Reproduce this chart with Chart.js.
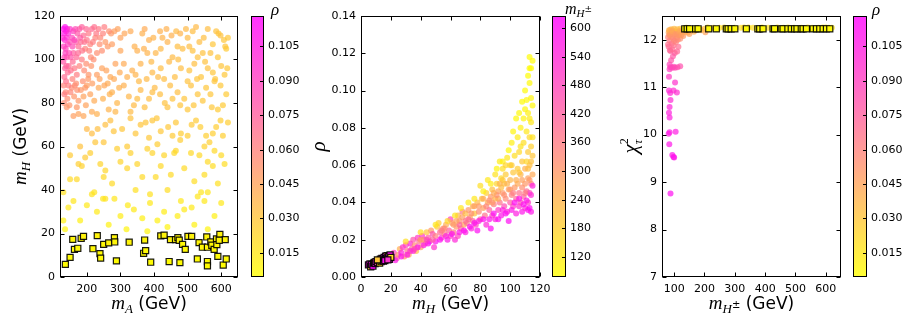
<!DOCTYPE html>
<html>
<head>
<meta charset="utf-8">
<script src="https://cdn.jsdelivr.net/npm/chart.js@4.4.1/dist/chart.umd.min.js"></script>
<style>
  body { margin: 0; background: #fff; }
  #wrap { position: relative; width: 915px; height: 327px; }
  canvas { position: absolute; top: 0; }
</style>
</head>
<body>
<div id="wrap">
  <canvas id="c1" width="305" height="327" style="left:0px"></canvas>
  <canvas id="c2" width="305" height="327" style="left:305px"></canvas>
  <canvas id="c3" width="305" height="327" style="left:610px"></canvas>
</div>
<script>
// ---- panel 1: m_A vs m_H, colour = rho ----
const p1Points = [
  [130,114,0.11],[132,112,0.108],[135,115,0.112],[138,113,0.105],[141,114,0.108],[128,110,0.1],[134,109,0.1],[140,110,0.098],
  [145,112,0.1],[150,114,0.095],[131,106,0.09],[137,105,0.088],[143,107,0.09],[150,108,0.085],[156,110,0.088],[160,113,0.09],
  [166,114,0.085],[172,112,0.08],[178,114,0.08],[185,115,0.075],[190,111,0.07],[198,114,0.072],[205,112,0.065],[215,114,0.07],
  [222,115,0.068],[228,112,0.065],[240,110,0.058],[248,112,0.06],[255,108,0.05],[272,112,0.05],[282,113,0.048],[292,114,0.046],
  [300,110,0.045],[312,112,0.044],[330,113,0.042],[365,112,0.04],[372,114,0.042],[385,109,0.04],[398,110,0.038],[418,113,0.04],
  [440,108,0.038],[452,111,0.04],[466,113,0.036],[478,112,0.038],[495,114,0.036],[500,110,0.035],[515,113,0.034],[525,115,0.036],
  [535,108,0.034],[548,110,0.033],[560,114,0.034],[592,112,0.03],[598,111,0.032],[608,109,0.03],[615,105,0.028],[167,108,0.08],
  [175,106,0.07],[182,108,0.07],[195,105,0.06],[210,107,0.06],[225,110,0.06],[238,107,0.055],[262,106,0.05],[275,107,0.048],
  [350,104,0.04],[370,105,0.04],[420,105,0.036],[470,106,0.034],[485,105,0.034],[515,104,0.032],[545,103,0.032],[575,107,0.03],
  [590,101,0.03],[612,106,0.03],
  [130,99,0.08],[135,96,0.075],[133,92,0.07],[140,101,0.08],[146,97,0.07],[152,95,0.068],[158,99,0.07],[163,96,0.065],
  [170,93,0.062],[178,97,0.06],[185,100,0.062],[192,95,0.056],[198,98,0.055],[205,93,0.052],[213,97,0.052],[220,100,0.055],
  [230,93,0.048],[245,96,0.046],[258,95,0.045],[270,92,0.043],[285,98,0.045],[298,94,0.042],[310,98,0.042],[320,92,0.04],
  [335,95,0.04],[345,93,0.038],[360,98,0.038],[378,91,0.036],[395,94,0.036],[412,92,0.035],[430,91,0.034],[445,99,0.036],
  [462,92,0.034],[480,96,0.034],[500,90,0.032],[520,98,0.033],[540,92,0.031],[560,96,0.032],[582,91,0.03],[600,97,0.031],
  [610,93,0.029],[380,103,0.038],[455,101,0.035],[230,103,0.055],[160,103,0.075],[300,104,0.044],
  [131,88,0.06],[137,85,0.058],[142,82,0.055],[148,79,0.052],[155,87,0.056],[162,83,0.052],[168,89,0.055],[175,81,0.05],
  [182,86,0.05],[190,83,0.046],[200,88,0.048],[210,84,0.045],[222,81,0.042],[235,87,0.043],[248,82,0.04],[262,89,0.042],
  [275,85,0.04],[290,80,0.037],[310,88,0.04],[325,83,0.037],[340,79,0.035],[360,86,0.036],[385,82,0.034],[402,87,0.035],
  [418,84,0.033],[432,80,0.032],[448,88,0.034],[470,85,0.033],[490,82,0.031],[510,88,0.032],[530,84,0.031],[555,87,0.03],
  [568,84,0.03],[580,90,0.031],[590,77,0.028],[605,79,0.028],[175,75,0.045],[190,74,0.044],[230,75,0.04],[265,77,0.038],
  [285,76,0.037],[330,76,0.035],[440,78,0.032],[160,74,0.048],
  [200,68,0.036],[215,66,0.034],[232,68,0.033],[255,70,0.033],[280,67,0.031],[305,68,0.03],[330,73,0.032],[360,70,0.031],
  [375,71,0.031],[395,72,0.03],[420,67,0.029],[442,69,0.029],[465,71,0.029],[478,63,0.027],[500,65,0.027],[525,72,0.028],
  [538,69,0.027],[555,65,0.026],[565,62,0.026],[585,69,0.027],[605,65,0.026],[620,71,0.027],[180,60,0.032],[320,60,0.028],
  [410,61,0.027],[480,66,0.027],[550,60,0.025],[250,62,0.03],
  [150,56,0.028],[175,52,0.026],[185,51,0.025],[210,57,0.026],[240,52,0.024],[255,49,0.023],[275,43,0.021],[290,59,0.026],
  [300,53,0.024],[330,57,0.025],[365,46,0.021],[380,59,0.025],[395,57,0.024],[420,51,0.022],[430,56,0.023],[450,47,0.021],
  [465,58,0.023],[490,50,0.021],[510,57,0.022],[550,47,0.02],[560,53,0.021],[575,51,0.02],[590,43,0.019],[600,56,0.021],
  [610,52,0.02],[255,36,0.018],[345,40,0.019],[388,38,0.018],[250,46,0.022],[460,57,0.022],
  [130,39,0.018],[130,26,0.012],[135,22,0.01],[150,45,0.021],[160,35,0.016],[180,26,0.012],[200,33,0.015],[215,38,0.017],
  [222,39,0.017],[248,36,0.016],[282,36,0.016],[300,28,0.013],[322,33,0.014],[340,31,0.014],[365,27,0.012],[380,21,0.01],
  [388,34,0.015],[430,30,0.013],[440,23,0.01],[480,35,0.015],[490,31,0.014],[512,32,0.014],[530,37,0.016],[540,39,0.016],
  [550,35,0.015],[560,39,0.016],[580,28,0.012],[560,22,0.01],[318,22,0.01],[190,18,0.008],
  [133,101,0.085],[136,103,0.09],[139,97,0.075],[143,94,0.07],[147,103,0.085],[152,101,0.08],[157,106,0.085],[163,109,0.088],
  [169,101,0.072],[174,103,0.072],[180,110,0.078],[186,104,0.066],[193,108,0.068],[200,109,0.066],[207,104,0.06],[212,101,0.056],
  [218,108,0.062],[235,114,0.065],[245,104,0.055],[252,115,0.062],[266,113,0.055],[133,84,0.062],[138,90,0.068],[145,88,0.062],
  [151,85,0.058],[157,91,0.06],[164,88,0.056],[171,86,0.054],[188,90,0.054],[195,87,0.05],[204,91,0.05],[216,89,0.048],
  [238,91,0.046],[252,88,0.044],[268,84,0.04],[281,91,0.043],[296,87,0.04],[132,80,0.056],[140,78,0.052],[170,78,0.05],
  [197,79,0.046],[215,76,0.042],
  [342,106,0.04],[405,103,0.037],[425,110,0.038],[437,114,0.04],[505,106,0.034],[530,101,0.032],[568,103,0.032],[585,113,0.032],
  [620,110,0.03],[355,90,0.036],[392,99,0.036],[420,96,0.034],[472,100,0.034],[505,95,0.032],[528,91,0.031],[552,99,0.032],
  [575,94,0.03],[598,88,0.029],[618,96,0.029],[350,82,0.034],[372,78,0.033],[395,85,0.034],[455,82,0.032],[478,79,0.031],
  [500,77,0.03],[518,79,0.03],[545,81,0.03],[572,78,0.029],[615,84,0.028],[345,66,0.03],[385,64,0.029],[408,73,0.03],
  [455,65,0.028],[512,70,0.028],[575,66,0.026],[598,72,0.027],[270,72,0.033],[225,62,0.03],[195,55,0.028],[320,50,0.024],
  [350,52,0.024],[405,46,0.021],[440,40,0.02],[520,44,0.02],[535,56,0.022],[580,58,0.022],[170,45,0.022],[230,30,0.014],
  [265,24,0.011],[410,26,0.012],[470,28,0.013],[520,24,0.011],[600,34,0.015],[145,32,0.015]
];
const p1Squares = [
  [136,5.8,0.006],[150,9,0.007],[158,17.3,0.009],[163,12.7,0.008],[173,13.2,0.008],[183,17.8,0.009],[190,18.7,0.01],
  [218,13,0.008],[231,19,0.01],[239,10.7,0.007],[241,8.7,0.007],[250,15,0.008],[265,15.7,0.009],[282,18.1,0.009],
  [283,16.1,0.009],[288,7.4,0.006],[326,16,0.009],[369,10.9,0.007],[372,17,0.009],[375,12.1,0.008],[390,6.8,0.006],
  [420,18.9,0.01],[430,19.2,0.01],[445,7.1,0.006],[449,17.2,0.009],[464,17.2,0.009],[471,18.1,0.009],[475,16.9,0.009],
  [477,6.6,0.006],[485,15,0.008],[493,12.7,0.008],[501,18.7,0.01],[512,18.7,0.01],[529,8.3,0.007],[534,15.8,0.009],
  [544,13.7,0.008],[557,18.4,0.009],[559,13.7,0.008],[559,7.1,0.006],[559,5.1,0.006],[569,16.1,0.009],[572,14.6,0.008],
  [579,12.7,0.008],[586,17.5,0.009],[587,14.9,0.008],[590,9.5,0.007],[596,19.6,0.01],[606,5.5,0.006],[612,17.2,0.009],
  [615,8.3,0.007],[594,16.9,0.009]
];
const p1XTicks = [200, 300, 400, 500, 600];
const p1YTicks = [0, 20, 40, 60, 80, 100, 120];

// ---- panel 2: m_H vs rho, colour = m_H± ----
const p2Points = [
  [21,0.011,560],[22,0.013,500],[24,0.010,420],[25,0.012,300],[26,0.015,250],[27,0.013,560],[28,0.016,520],[29,0.011,300],
  [30,0.017,480],[31,0.014,380],[32,0.012,260],[33,0.018,550],[34,0.015,400],[35,0.02,450],[36,0.017,320],[37,0.014,220],
  [38,0.021,500],[39,0.019,380],[40,0.016,280],[41,0.022,520],[42,0.02,360],[43,0.018,300],[44,0.024,200],[45,0.021,420],
  [46,0.019,560],[47,0.025,300],[48,0.023,460],[49,0.016,520],[50,0.022,350],
  [51,0.027,200],[52,0.029,180],[53,0.024,400],[54,0.021,520],[55,0.026,300],[56,0.023,360],[57,0.028,250],[58,0.02,580],
  [59,0.025,420],[60,0.022,500],[60,0.031,480],[61,0.029,280],[62,0.024,350],[63,0.02,540],[64,0.027,300],[65,0.033,240],
  [65,0.022,480],[66,0.03,320],[67,0.026,400],[68,0.035,360],[68,0.032,290],[69,0.028,260],[70,0.024,560],[70,0.034,220],
  [71,0.029,380],[72,0.036,300],[73,0.032,260],[74,0.026,560],[75,0.038,250],[75,0.03,420],[76,0.034,200],[77,0.028,480],
  [78,0.04,230],[78,0.025,600],[79,0.035,330],[80,0.031,400],[80,0.049,150],[81,0.042,200],[82,0.037,280],[83,0.033,380],
  [84,0.028,540],[84,0.045,180],[85,0.052,130],[85,0.04,250],[86,0.036,420],[87,0.026,600],[87,0.043,300],[88,0.047,220],
  [88,0.033,480],[89,0.039,360],[90,0.055,140],[90,0.042,240],[90,0.031,560],
  [91,0.05,170],[92,0.046,280],[92,0.036,500],[93,0.062,120],[93,0.04,380],[94,0.053,160],[94,0.033,580],[95,0.045,300],
  [95,0.058,150],[96,0.038,460],[96,0.05,220],[97,0.042,330],[97,0.055,190],[98,0.064,130],[98,0.035,540],[99,0.047,280],
  [99,0.03,600],[100,0.06,160],[100,0.04,420],[100,0.052,230],[101,0.072,110],[101,0.044,350],[102,0.038,500],[102,0.056,200],
  [103,0.065,150],[103,0.048,300],[104,0.034,560],[104,0.042,400],[105,0.075,120],[105,0.058,190],
  [105,0.05,260],[106,0.045,380],[106,0.038,520],[106,0.067,160],[107,0.08,110],[107,0.055,240],[107,0.04,460],[108,0.062,200],
  [108,0.048,320],[108,0.035,580],[109,0.085,105],[109,0.072,150],[109,0.043,420],[110,0.09,100],[110,0.058,250],[110,0.05,300],
  [110,0.037,540],[111,0.095,95],[111,0.078,130],[111,0.046,400],[112,0.067,190],[112,0.053,280],[112,0.036,600],[112,0.088,110],
  [113,0.118,85],[113,0.104,90],[113,0.075,160],[113,0.06,220],[113,0.045,480],[114,0.112,88],[114,0.096,100],[114,0.083,130],
  [114,0.07,180],[114,0.05,350],[115,0.116,85],[115,0.092,95],[115,0.065,200],[115,0.049,560],[114,0.035,580],[112,0.04,500],
  [23,0.009,580],[27,0.011,600],[31,0.012,590],[35,0.014,560],[38,0.016,600],[42,0.017,580],[45,0.018,600],[50,0.019,590],
  [53,0.02,600],[57,0.022,560],[61,0.023,600],[66,0.024,580],[69,0.025,600],[73,0.027,590],[76,0.029,600],[79,0.03,580],
  [82,0.031,600],[86,0.031,590],[89,0.034,600],[92,0.031,600],[95,0.036,560],[97,0.034,600],[101,0.036,580],[103,0.04,600],
  [106,0.042,590],[109,0.039,600],[111,0.041,580],[113,0.037,600],[114,0.044,540],
  [30,0.019,150],[40,0.024,140],[50,0.028,130],[58,0.03,160],[63,0.033,140],[67,0.037,130],[72,0.04,120],[76,0.042,130],
  [82,0.046,110],[87,0.05,120],[91,0.058,100],[95,0.062,110],[99,0.068,95],[102,0.078,100],[104,0.085,95],[106,0.088,90],
  [108,0.094,88],[110,0.1,90],[112,0.108,86],[113,0.112,85],
  [88,0.04,300],[92,0.042,260],[94,0.048,220],[96,0.044,320],[98,0.05,240],[100,0.047,300],[102,0.045,360],[104,0.052,250],
  [106,0.056,200],[108,0.052,280],[110,0.045,360],[111,0.062,170],[112,0.058,220],[113,0.052,300],[115,0.055,260],[115,0.075,140],
  [113,0.085,120],[114,0.062,210],[107,0.07,140],[101,0.06,190],[97,0.06,170],[95,0.052,200],[93,0.05,240],[91,0.044,320],
  [89,0.045,260],[86,0.041,320],[84,0.038,340],[82,0.042,260],[79,0.038,300],[76,0.038,280],[74,0.034,320],[72,0.031,420],
  [70,0.03,380],[66,0.028,420],[64,0.03,280],[62,0.028,300],[56,0.026,340],[54,0.025,360],[48,0.02,420],[44,0.02,480],
  [40,0.02,300],[36,0.015,480],[33,0.014,520]
];
const p2Squares = [
  [5,0.0065,600],[6,0.007,560],[6.5,0.0055,200],[7,0.0068,590],[8,0.0058,610],[8.5,0.0075,520],[9,0.0079,180],
  [9.5,0.0072,600],[10,0.0083,560],[11,0.0078,480],[12,0.0088,600],[12.5,0.0074,160],[13,0.0096,580],[13.5,0.0082,120],
  [14,0.01,520],[14.5,0.0091,600],[15,0.0085,560],[15.5,0.0105,600],[16,0.0094,160],[16.5,0.0112,590],[17,0.0098,540],
  [17.5,0.0115,200],[18,0.0102,600],[18.5,0.0109,480],[19,0.0095,560],[19.5,0.0118,600],[20,0.0105,150],[16,0.0088,600],
  [11,0.0092,200],[18,0.0092,520]
];
const p2XTicks = [0, 20, 40, 60, 80, 100, 120];
const p2YTicks = [0, 0.02, 0.04, 0.06, 0.08, 0.10, 0.12, 0.14];

// ---- panel 3: m_H± vs chi2_tau, colour = rho ----
const p3Points = [
  [88,8.76,0.112],[94,9.57,0.11],[98,9.53,0.11],[100,9.52,0.11],[84,9.8,0.108],[82,10.02,0.106],[85,10.05,0.106],[105,10.06,0.105],
  [85,10.36,0.104],[83,10.46,0.103],[85,10.58,0.102],[88,10.73,0.1],[87,10.88,0.1],[83,10.93,0.1],[98,10.93,0.098],[103,11.1,0.096],
  [109,10.89,0.098],[83,11.22,0.092],[85,11.38,0.09],[85,11.48,0.088],[88,11.42,0.088],[94,11.41,0.087],[99,11.43,0.086],
  [103,11.41,0.085],[111,11.42,0.084],[120,11.44,0.082],[90,11.57,0.08],[88,11.76,0.075],[102,11.72,0.074],[114,11.85,0.07],
  [80,11.9,0.068],[85,11.98,0.065],[92,11.92,0.066],[98,11.88,0.067],[106,11.95,0.062],[112,12.0,0.058],[120,12.02,0.055],
  [80,12.05,0.06],[84,12.1,0.055],[88,12.13,0.05],[92,12.05,0.058],[96,12.15,0.048],[100,12.1,0.052],[104,12.17,0.046],
  [108,12.12,0.05],[112,12.18,0.044],[116,12.1,0.05],[122,12.15,0.046],[126,12.2,0.042],[130,12.08,0.05],[136,12.17,0.044],
  [142,12.2,0.04],[150,12.12,0.045],[160,12.22,0.038],[170,12.2,0.04],[185,12.22,0.035],[200,12.23,0.034],[82,12.15,0.045],
  [86,12.2,0.04],[90,12.22,0.038],[95,12.2,0.04],[100,12.23,0.036],[110,12.22,0.036],[120,12.23,0.034],[135,12.24,0.03],
  [203,12.16,0.045],[140,12.25,0.025],[210,12.26,0.022],[250,12.25,0.02],[320,12.25,0.02],[345,12.26,0.018],[360,12.25,0.02],
  [410,12.25,0.018],[440,12.26,0.02],[460,12.25,0.017],[520,12.25,0.018],[555,12.25,0.016],[600,12.26,0.017],[610,12.25,0.016],
  [83,12.2,0.04],[86,12.1,0.05],[93,12.18,0.045],[97,12.02,0.055],[101,11.98,0.06],[105,12.12,0.05],[109,12.05,0.055],
  [113,12.1,0.05],[118,12.18,0.044],[124,12.1,0.048],[82,11.85,0.07],[86,11.78,0.072],[94,11.8,0.07],[110,11.75,0.072],
  [96,11.65,0.078],[128,12.15,0.045],[145,12.15,0.042],[155,12.2,0.04],[165,12.17,0.04],[175,12.23,0.034],[190,12.2,0.036],
  [230,12.25,0.025],[265,12.26,0.02],[300,12.25,0.022],[330,12.26,0.02],[390,12.26,0.018],[475,12.26,0.018],[495,12.25,0.017],
  [540,12.26,0.018],[575,12.25,0.016],[590,12.26,0.017],[620,12.25,0.016]
];
const p3Squares = [
  [135,12.23,0.007],[143,12.23,0.007],[151,12.23,0.007],[171,12.23,0.007],[179,12.23,0.007],[214,12.23,0.007],
  [239,12.23,0.007],[272,12.23,0.007],[278,12.23,0.007],[288,12.23,0.007],[300,12.23,0.007],[338,12.23,0.007],
  [376,12.23,0.007],[382,12.23,0.007],[393,12.23,0.007],[426,12.23,0.007],[431,12.23,0.007],[453,12.23,0.007],
  [459,12.23,0.007],[475,12.23,0.007],[486,12.23,0.007],[497,12.23,0.007],[505,12.23,0.007],[519,12.23,0.007],
  [525,12.23,0.007],[536,12.23,0.007],[558,12.23,0.007],[569,12.23,0.007],[580,12.23,0.007],[591,12.23,0.007],
  [602,12.23,0.007],[613,12.23,0.007]
];
const p3XTicks = [100, 200, 300, 400, 500, 600];
const p3YTicks = [7, 8, 9, 10, 11, 12];

// colour bars
const rhoRange = [0.0047, 0.118];
const rhoTicks = [0.015, 0.030, 0.045, 0.060, 0.075, 0.090, 0.105];
const mhpmRange = [79, 624];
const mhpmTicks = [120, 180, 240, 300, 360, 420, 480, 540, 600];

// spring_r-like map: low -> yellow, high -> magenta
function cmap(v, range, a) {
  let t = (v - range[0]) / (range[1] - range[0]);
  t = Math.max(0, Math.min(1, t));
  return `rgba(255,${Math.round(255 * (1 - t))},${Math.round(255 * t)},${a})`;
}

const SERIF_I = '"Liberation Serif", "DejaVu Serif", serif';
const SANS = '"DejaVu Sans", sans-serif';

// text made of pieces with their own font / vertical offset (sub- and superscripts)
function drawRich(ctx, parts, x, y, angle, leftAlign) {
  ctx.save();
  ctx.translate(x, y);
  ctx.rotate(angle || 0);
  let w = 0;
  parts.forEach((p) => {
    ctx.font = p.f;
    p.w = ctx.measureText(p.t).width;
    if (!p.stack) w += p.w;
  });
  let cx = leftAlign ? 0 : -w / 2;
  ctx.fillStyle = "#000";
  ctx.textAlign = "left";
  ctx.textBaseline = "alphabetic";
  parts.forEach((p) => {
    ctx.font = p.f;
    ctx.fillText(p.t, cx, p.dy || 0);
    if (!p.stack) cx += p.w;
  });
  ctx.restore();
}

// frame + inward ticks, titles and colour bar
const decor = {
  id: "decor",
  afterDraw(chart, args, o) {
    const { ctx, chartArea: a, scales } = chart;
    const L = Math.round(a.left) + 0.5, R = Math.round(a.right) - 0.5;
    const T = Math.round(a.top) + 0.5, B = Math.round(a.bottom) - 0.5;
    ctx.save();
    ctx.strokeStyle = "#000";
    ctx.lineWidth = 1;
    ctx.beginPath();
    scales.x.ticks.forEach((t) => {
      const px = Math.round(scales.x.getPixelForValue(t.value)) + 0.5;
      ctx.moveTo(px, B); ctx.lineTo(px, B - 4);
      ctx.moveTo(px, T); ctx.lineTo(px, T + 4);
    });
    scales.y.ticks.forEach((t) => {
      const py = Math.round(scales.y.getPixelForValue(t.value)) + 0.5;
      ctx.moveTo(L, py); ctx.lineTo(L + 4, py);
      ctx.moveTo(R, py); ctx.lineTo(R - 4, py);
    });
    ctx.stroke();
    ctx.strokeRect(L, T, R - L, B - T);

    // colour bar
    const cb = o.cb;
    const g = ctx.createLinearGradient(0, B, 0, T);
    for (let i = 0; i <= 20; i++) {
      const v = cb.range[0] + (cb.range[1] - cb.range[0]) * i / 20;
      g.addColorStop(i / 20, cmap(v, cb.range, 0.8));
    }
    ctx.fillStyle = g;
    ctx.fillRect(cb.x, T, cb.w, B - T);
    ctx.strokeRect(cb.x + 0.5, T, cb.w, B - T);
    ctx.fillStyle = "#000";
    ctx.font = "11px " + SANS;
    ctx.textAlign = "left";
    ctx.textBaseline = "middle";
    ctx.beginPath();
    cb.ticks.forEach((v) => {
      const py = Math.round(B - (v - cb.range[0]) / (cb.range[1] - cb.range[0]) * (B - T)) + 0.5;
      ctx.moveTo(cb.x + cb.w + 0.5, py); ctx.lineTo(cb.x + cb.w - 3, py);
      ctx.fillText(cb.fmt(v), cb.x + cb.w + 5, py);
    });
    ctx.stroke();
    ctx.restore();

    const cx = (a.left + a.right) / 2, cy = (a.top + a.bottom) / 2;
    drawRich(ctx, o.xTitle, cx, 309, 0);
    drawRich(ctx, o.yTitle, o.yTitleX, cy, -Math.PI / 2);
    drawRich(ctx, o.cbTitle, o.cbTitleX, o.cbTitleY, 0, true);
  }
};

function mTitle(sub, extra) {
  const parts = [
    { t: "m", f: "italic 19px " + SERIF_I },
    { t: sub, f: "italic 13px " + SERIF_I, dy: 4 }
  ];
  if (extra) parts.push(extra);
  parts.push({ t: " (GeV)", f: "17px " + SANS });
  return parts;
}

function makeChart(id, cfg) {
  const axisTicks = (list) => (scale) => { scale.ticks = list.map((v) => ({ value: v })); };
  return new Chart(document.getElementById(id).getContext("2d"), {
    type: "scatter",
    data: {
      datasets: [
        {
          data: cfg.squares.map((p) => ({ x: p[0], y: p[1] })),
          pointStyle: "rect",
          pointRadius: 4.3,
          pointBackgroundColor: cfg.squares.map((p) => cmap(p[2], cfg.cb.range, 1)),
          pointBorderColor: "rgba(0,0,0,0.9)",
          pointBorderWidth: 1.2
        },
        {
          data: cfg.points.map((p) => ({ x: p[0], y: p[1] })),
          pointRadius: 3,
          pointBackgroundColor: cfg.points.map((p) => cmap(p[2], cfg.cb.range, 0.7)),
          pointBorderWidth: 0
        }
      ]
    },
    options: {
      responsive: false,
      animation: false,
      events: [],
      layout: { padding: { left: 0, right: cfg.padRight, top: 16, bottom: 0 } },
      scales: {
        x: {
          type: "linear",
          min: cfg.xRange[0],
          max: cfg.xRange[1],
          afterBuildTicks: axisTicks(cfg.xTicks),
          afterFit: (s) => { s.height = 50; },
          grid: { display: false, drawTicks: false },
          border: { display: false },
          ticks: { color: "#000", padding: 6, font: { size: 11, family: SANS }, maxRotation: 0, autoSkip: false, callback: cfg.xFmt }
        },
        y: {
          type: "linear",
          min: cfg.yRange[0],
          max: cfg.yRange[1],
          afterBuildTicks: axisTicks(cfg.yTicks),
          afterFit: (s) => { s.width = cfg.yWidth; },
          grid: { display: false, drawTicks: false },
          border: { display: false },
          ticks: { color: "#000", padding: 5, font: { size: 11, family: SANS }, autoSkip: false, callback: cfg.yFmt }
        }
      },
      plugins: {
        legend: { display: false },
        tooltip: { enabled: false },
        decor: {
          cb: cfg.cb,
          xTitle: cfg.xTitle,
          yTitle: cfg.yTitle,
          yTitleX: cfg.yTitleX,
          cbTitle: cfg.cbTitle,
          cbTitleX: cfg.cbTitleX,
          cbTitleY: cfg.cbTitleY
        }
      }
    },
    plugins: [decor]
  });
}

const rhoFmt = (v) => v.toFixed(3);
const intFmt = (v) => String(v);

makeChart("c1", {
  points: p1Points, squares: p1Squares,
  xRange: [120, 650], yRange: [0, 120], xTicks: p1XTicks, yTicks: p1YTicks,
  xFmt: intFmt, yFmt: intFmt, yWidth: 60, padRight: 67,
  cb: { x: 251, w: 12, range: rhoRange, ticks: rhoTicks, fmt: rhoFmt },
  xTitle: mTitle("A"), yTitle: mTitle("H"), yTitleX: 26,
  cbTitle: [{ t: "ρ", f: "italic 17px " + SERIF_I }], cbTitleX: 271, cbTitleY: 15
});

makeChart("c2", {
  points: p2Points, squares: p2Squares,
  xRange: [0, 120], yRange: [0, 0.14], xTicks: p2XTicks, yTicks: p2YTicks,
  xFmt: intFmt, yFmt: (v) => v.toFixed(2), yWidth: 56, padRight: 70,
  cb: { x: 247, w: 13, range: mhpmRange, ticks: mhpmTicks, fmt: intFmt },
  xTitle: mTitle("H"), yTitle: [{ t: "ρ", f: "italic 21px " + SERIF_I }], yTitleX: 20,
  cbTitle: [
    { t: "m", f: "italic 16px " + SERIF_I },
    { t: "H", f: "italic 11px " + SERIF_I, dy: 3 },
    { t: "±", f: "9px " + SANS, dy: -2 }
  ], cbTitleX: 260, cbTitleY: 14
});

makeChart("c3", {
  points: p3Points, squares: p3Squares,
  xRange: [60, 650], yRange: [7, 12.5], xTicks: p3XTicks, yTicks: p3YTicks,
  xFmt: intFmt, yFmt: intFmt, yWidth: 52, padRight: 74,
  cb: { x: 243, w: 13, range: rhoRange, ticks: rhoTicks, fmt: rhoFmt },
  xTitle: mTitle("H", { t: "±", f: "10px " + SANS, dy: -1 }),
  yTitle: [
    { t: "χ", f: "italic 21px " + SERIF_I },
    { t: "2", f: "12px " + SERIF_I, dy: -9, stack: true },
    { t: "τ", f: "italic 13px " + SERIF_I, dy: 5 }
  ], yTitleX: 27,
  cbTitle: [{ t: "ρ", f: "italic 17px " + SERIF_I }], cbTitleX: 262, cbTitleY: 15
});
</script>
</body>
</html>
